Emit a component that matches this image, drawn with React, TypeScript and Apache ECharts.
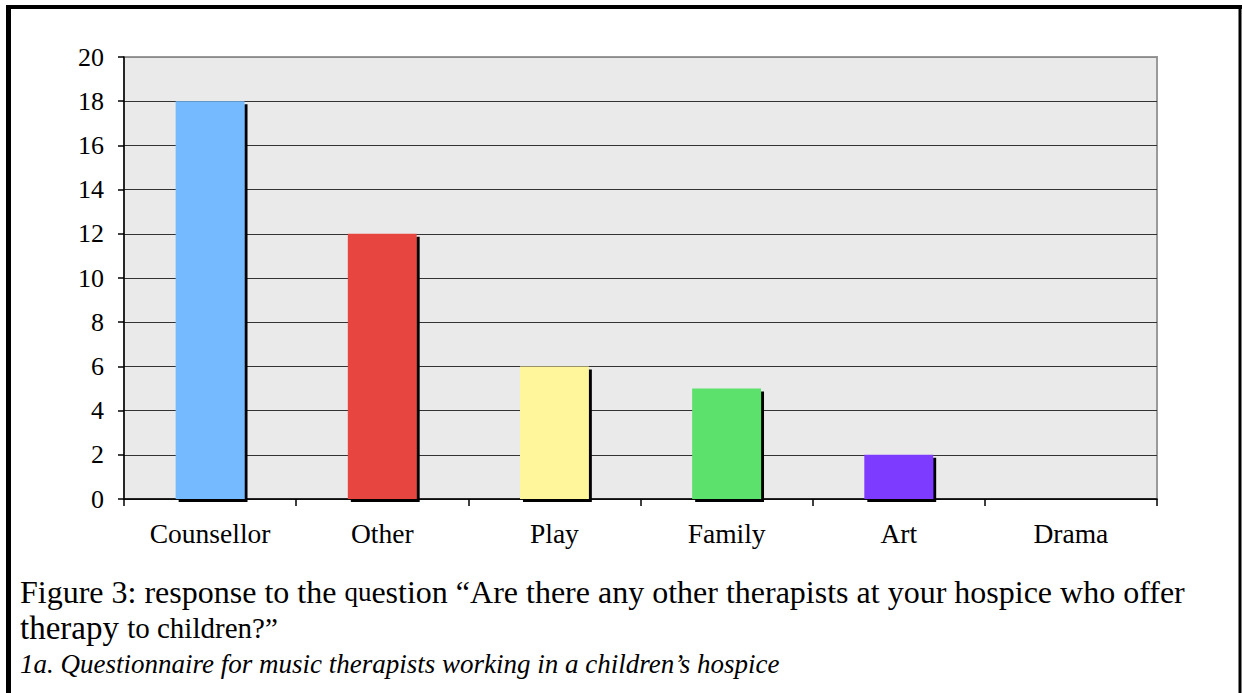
import React, { useEffect, useRef } from "react";
import * as echarts from "echarts";

const categories = ["Counsellor", "Other", "Play", "Family", "Art", "Drama"];
const values = [18, 12, 6, 5, 2, 0];
const barColors = ["#75B9FF", "#E64540", "#FFF59B", "#5BE16C", "#7B3AFF", "#999999"];
const yTicks = [0, 2, 4, 6, 8, 10, 12, 14, 16, 18, 20];

const FONT = "Liberation Serif";

export default function App() {
  const ref = useRef<HTMLDivElement>(null);
  useEffect(() => {
    if (!ref.current) return;
    const chart = echarts.init(ref.current, null, { renderer: "svg" });
    const splitColors = yTicks.map((t, i) => (i === yTicks.length - 1 ? "#8a8a8a" : "#333333"));
    chart.setOption({
      animation: false,
      backgroundColor: "#ffffff",
      textStyle: { fontFamily: FONT },
      grid: {
        left: 124,
        right: 86,
        top: 57,
        bottom: 194,
        show: true,
        backgroundColor: "#EAEAEA",
        borderColor: "#9a9a9a",
        borderWidth: 2,
      },
      xAxis: {
        type: "category",
        data: categories,
        axisLine: { show: true, lineStyle: { color: "#000", width: 1.5 } },
        axisTick: { show: true, length: 7, lineStyle: { color: "#000", width: 1.5 } },
        axisLabel: { color: "#000", fontFamily: FONT, fontSize: 27.5, margin: 20 },
        splitLine: { show: false },
      },
      yAxis: {
        type: "value",
        min: yTicks[0],
        max: yTicks[yTicks.length - 1],
        interval: 2,
        axisLine: { show: true, lineStyle: { color: "#000", width: 1.5 } },
        axisTick: { show: true, length: 6, lineStyle: { color: "#000", width: 1.5 } },
        axisLabel: { color: "#000", fontFamily: FONT, fontSize: 26, margin: 20 },
        splitLine: { show: true, lineStyle: { color: splitColors, width: 1.2 } },
      },
      series: [
        {
          type: "bar",
          data: values.map((v, i) => ({ value: v, itemStyle: { color: barColors[i] } })),
          barWidth: "40%",
          clip: true,
          itemStyle: {
            shadowColor: "#000000",
            shadowOffsetX: 3,
            shadowOffsetY: 3,
            shadowBlur: 0,
          },
        },
      ],
      graphic: [
        { type: "line", shape: { x1: 7, y1: 7, x2: 1242, y2: 7 }, style: { stroke: "#000", lineWidth: 4 } },
        { type: "line", shape: { x1: 8.5, y1: 5, x2: 8.5, y2: 693 }, style: { stroke: "#000", lineWidth: 5 } },
        { type: "line", shape: { x1: 1240, y1: 5, x2: 1240, y2: 693 }, style: { stroke: "#000", lineWidth: 3 } },
        {
          type: "text",
          left: 20,
          top: 576,
          style: {
            text: "{a|Figure 3: response to the }{s|qu}{a|estion “Are there any other therapists at your hospice who offer}",
            rich: {
              a: { fontFamily: FONT, fontSize: 32, fill: "#000" },
              s: { fontFamily: FONT, fontSize: 27, fill: "#000" },
            },
          },
        },
        {
          type: "text",
          left: 20,
          top: 611,
          style: {
            text: "{a|therapy }{s|to children?”}",
            rich: {
              a: { fontFamily: FONT, fontSize: 33, fill: "#000" },
              s: { fontFamily: FONT, fontSize: 29, fill: "#000" },
            },
          },
        },
        {
          type: "text",
          left: 20,
          top: 650,
          style: {
            text: "1a. Questionnaire for music therapists working in a children’s hospice",
            fontFamily: FONT,
            fontStyle: "italic",
            fontSize: 27,
            fill: "#000",
          },
        },
      ],
    });
    return () => chart.dispose();
  }, []);
  return (
    <div
      ref={ref}
      style={{ position: "fixed", left: 0, top: 0, width: 1243, height: 693 }}
    />
  );
}
